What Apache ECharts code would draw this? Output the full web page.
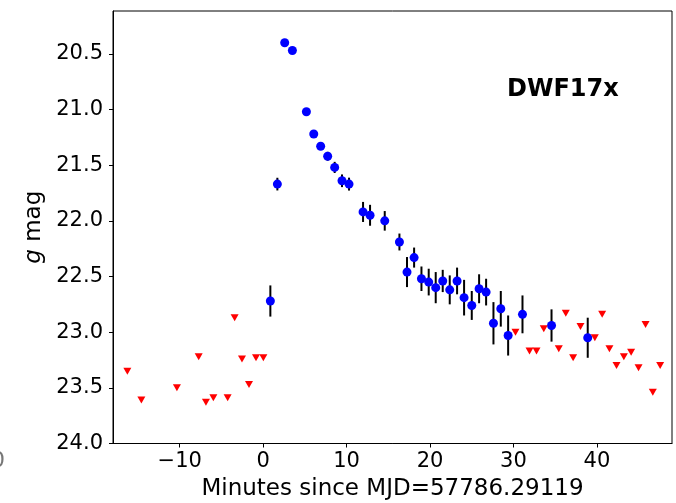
<!DOCTYPE html>
<html>
<head>
<meta charset="utf-8">
<script src="https://cdn.jsdelivr.net/npm/echarts@6/dist/echarts.min.js"></script>
<style>
html,body{margin:0;padding:0;background:#fff;}
#chart{width:676px;height:503px;}
</style>
</head>
<body>
<div id="chart"></div>
<script>
// Detections (blue points with error bars)
const detTime = [0.86, 1.70, 2.58, 3.50, 5.18, 6.06, 6.89, 7.73, 8.57, 9.45, 10.29, 11.97, 12.81, 14.57, 16.33, 17.24, 18.09, 18.97, 19.84, 20.68, 21.52, 22.36, 23.24, 24.08, 25.00, 25.88, 26.72, 27.60, 28.48, 29.36, 31.08, 34.56, 38.90];
const detMag  = [22.72, 21.67, 20.40, 20.47, 21.02, 21.22, 21.33, 21.42, 21.52, 21.64, 21.67, 21.92, 21.95, 22.00, 22.19, 22.46, 22.33, 22.52, 22.55, 22.60, 22.54, 22.62, 22.54, 22.69, 22.76, 22.61, 22.64, 22.92, 22.79, 23.03, 22.84, 22.94, 23.05];
const detErr  = [0.14, 0.057, 0.015, 0.015, 0.015, 0.02, 0.03, 0.04, 0.05, 0.057, 0.058, 0.09, 0.094, 0.088, 0.076, 0.135, 0.09, 0.11, 0.12, 0.14, 0.10, 0.13, 0.12, 0.16, 0.13, 0.13, 0.12, 0.19, 0.16, 0.18, 0.17, 0.145, 0.18];
// Upper limits (red downward triangles)
const limTime = [-16.28, -14.60, -10.34, -7.73, -6.86, -5.97, -4.26, -3.42, -2.54, -1.70, -0.86, 0.02, 30.24, 31.92, 32.76, 33.63, 35.43, 36.27, 37.15, 38.03, 39.75, 40.63, 41.50, 42.35, 43.23, 44.10, 44.99, 45.83, 46.70, 47.58];
const limMag  = [23.35, 23.61, 23.50, 23.22, 23.63, 23.59, 23.59, 22.87, 23.24, 23.47, 23.23, 23.23, 23.00, 23.17, 23.17, 22.97, 23.15, 22.83, 23.23, 22.95, 23.05, 22.84, 23.15, 23.30, 23.22, 23.18, 23.32, 22.93, 23.54, 23.30];
// Tick labels
const xTicks = [-10, 0, 10, 20, 30, 40];
const yTicks = [20.5, 21.0, 21.5, 22.0, 22.5, 23.0, 23.5, 24.0];
const titleText = 'DWF17x';
const xName = 'Minutes since MJD=57786.29119';

const FONT = 'DejaVu Sans';
const detData = detTime.map((t, i) => [t, detMag[i]]);
const errData = detTime.map((t, i) => [t, detMag[i] - detErr[i], detMag[i] + detErr[i]]);
const limData = limTime.map((t, i) => [t, limMag[i]]);

const chart = echarts.init(document.getElementById('chart'), null, {renderer: 'canvas'});
chart.setOption({
  animation: false,
  backgroundColor: '#fff',
  grid: {left: 113, right: 4, top: 11, height: 432.5, show: true, borderColor: '#000', borderWidth: 1,
    backgroundColor: 'transparent', containLabel: false, outerBoundsMode: 'none'},
  xAxis: {
    type: 'value', min: -18, max: 49,
    name: xName, nameLocation: 'middle', nameGap: 31,
    nameTextStyle: {fontFamily: FONT, fontSize: 23, color: '#000'},
    axisLine: {show: true, onZero: false, lineStyle: {color: '#000', width: 1}},
    axisTick: {show: true, customValues: xTicks, length: 4, lineStyle: {color: '#000'}},
    axisLabel: {customValues: xTicks, fontFamily: FONT, fontSize: 21, color: '#000', margin: 8,
      formatter: v => v < 0 ? '\u2212' + Math.abs(v) : String(v)},
    splitLine: {show: false}
  },
  yAxis: {
    type: 'value', min: 20.115, max: 24.0, inverse: true,
    name: '{i|g} mag', nameLocation: 'middle', nameGap: 60, nameRotate: 90,
    nameTextStyle: {fontFamily: FONT, fontSize: 23, color: '#000',
      rich: {i: {fontFamily: FONT, fontSize: 23, fontStyle: 'italic', color: '#000'}}},
    axisLine: {show: true, onZero: false, lineStyle: {color: '#000', width: 1}},
    axisTick: {show: true, customValues: yTicks, length: 4, lineStyle: {color: '#000'}},
    axisLabel: {customValues: yTicks, fontFamily: FONT, fontSize: 21, color: '#000', margin: 10,
      formatter: v => Number(v).toFixed(1)},
    splitLine: {show: false}
  },
  graphic: [
    {type: 'text', left: 507, top: 78, style: {text: titleText, font: 'bold 24px "DejaVu Sans"', fill: '#000'}},
    {type: 'text', left: -9, top: 450, style: {text: '0', font: '22px "DejaVu Sans"', fill: '#777'}}
  ],
  series: [
    {
      type: 'custom', name: 'err', data: errData, z: 2,
      renderItem: (params, api) => {
        const p1 = api.coord([api.value(0), api.value(1)]);
        const p2 = api.coord([api.value(0), api.value(2)]);
        return {type: 'line', shape: {x1: p1[0], y1: p1[1], x2: p2[0], y2: p2[1]},
          style: {stroke: '#000', lineWidth: 2}};
      },
      encode: {x: 0, y: [1, 2]}
    },
    {
      type: 'scatter', name: 'det', data: detData, symbol: 'circle', symbolSize: 9, z: 3,
      itemStyle: {color: '#0000ff', opacity: 1}
    },
    {
      type: 'scatter', name: 'lim', data: limData, symbol: 'triangle', symbolRotate: 180, symbolSize: [8, 7], z: 4,
      itemStyle: {color: '#ff0000', opacity: 1}
    }
  ]
});
</script>
</body>
</html>
